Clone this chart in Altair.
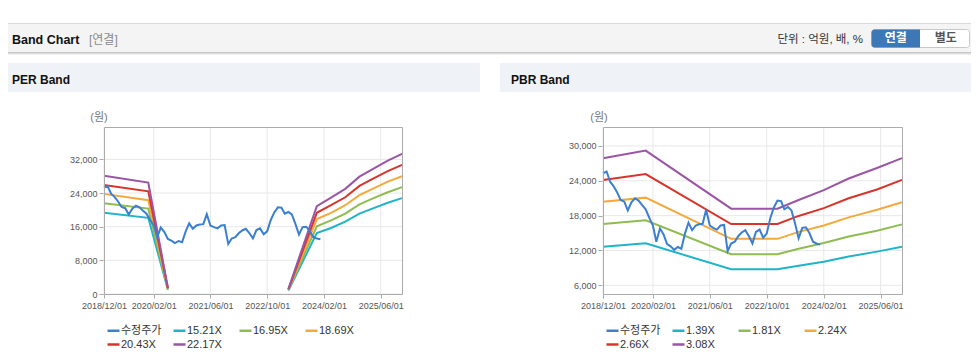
import altair as alt
import pandas as pd

# ---------------- data ----------------
price_label = "수정주가"
price_first_month = "2018-12-01"
price_values = [
    25300, 25600, 23800, 23100, 22000, 20700, 20400, 18900, 20300, 21000,
    20600, 19800, 19100, 17600, 16300, 13500, 15800, 14800, 13100, 12700,
    12100, 12600, 12300, 14900, 16800, 15500, 16300, 16500, 16600, 19000,
    16300, 15900, 15600, 16300, 16400, 11900, 13200, 13500, 14500, 15100,
    15500, 14500, 13200, 15200, 15600, 14200, 14900, 17600, 19400, 20600,
    20500, 19100, 19500, 18900, 16600, 14100, 15900, 16000, 15000, 13500,
    13200, 13000,
]

per_band_labels = ["15.21X", "16.95X", "18.69X", "20.43X", "22.17X"]
per_band_dates = [
    ["2018-12-01", "2019-12-16", "2020-06-01"],
    ["2023-04-01", "2023-12-01", "2024-04-01", "2024-08-01", "2024-12-01",
     "2025-04-01", "2025-08-01", "2025-12-01"],
]
per_15_21 = [19300, 18100, 1030, 820, 14500, 15700, 17200, 19100, 20400, 21700, 22800]
per_16_95 = [21600, 20300, 1150, 920, 16100, 17500, 19100, 21300, 22800, 24200, 25400]
per_18_69 = [23800, 22300, 1260, 1010, 17800, 19300, 21100, 23500, 25100, 26700, 28000]
per_20_43 = [25900, 24400, 1380, 1100, 19300, 21100, 23000, 25700, 27500, 29200, 30700]
per_22_17 = [28100, 26500, 1500, 1200, 20900, 22900, 25000, 27900, 29800, 31700, 33300]

pbr_band_labels = ["1.39X", "1.81X", "2.24X", "2.66X", "3.08X"]
pbr_band_dates = [
    ["2018-12-01", "2019-12-01", "2021-12-01", "2023-01-01", "2023-07-01",
     "2024-02-01", "2024-09-01", "2025-05-01", "2025-12-01"],
]
pbr_1_39 = [12650, 13250, 8750, 8750, 9350, 10050, 10950, 11800, 12650]
pbr_1_81 = [16550, 17200, 11350, 11350, 12300, 13300, 14400, 15400, 16500]
pbr_2_24 = [20400, 21100, 14000, 14000, 15200, 16300, 17700, 19000, 20300]
pbr_2_66 = [24150, 25150, 16550, 16550, 17950, 19300, 21000, 22500, 24150]
pbr_3_08 = [27900, 29200, 19200, 19200, 20700, 22400, 24400, 26200, 27900]

x_tick_dates = [(2018, 12, 1), (2020, 2, 1), (2021, 6, 1), (2022, 10, 1), (2024, 2, 1), (2025, 6, 1)]
x_domain_dates = [(2018, 12, 1), (2025, 12, 1)]
per_y_domain = [0, 39700]
per_y_ticks = [0, 8000, 16000, 24000, 32000]
pbr_y_domain = [4500, 33270]
pbr_y_ticks = [6000, 12000, 18000, 24000, 30000]

series_colors = ["#3a7fd0", "#1fb4c8", "#8fbc51", "#f5a83c", "#d8342c", "#9a55a4"]

# ---------------- tables ----------------
def band_frame(labels, seg_dates, series_values):
    rows = []
    for label, vals in zip(labels, series_values):
        i = 0
        for s, dates in enumerate(seg_dates):
            for d in dates:
                rows.append({"date": d, "value": vals[i], "series": label, "seg": f"{label}-{s}"})
                i += 1
    return pd.DataFrame(rows)


price_df = pd.DataFrame({
    "date": pd.date_range(price_first_month, periods=len(price_values), freq="MS").strftime("%Y-%m-%d"),
    "value": price_values,
    "series": price_label,
})
per_df = band_frame(per_band_labels, per_band_dates, [per_15_21, per_16_95, per_18_69, per_20_43, per_22_17])
pbr_df = band_frame(pbr_band_labels, pbr_band_dates, [pbr_1_39, pbr_1_81, pbr_2_24, pbr_2_66, pbr_3_08])
tick_df = pd.DataFrame({"date": [f"{y}-{m:02d}-{d:02d}" for y, m, d in x_tick_dates]})

# ---------------- layout constants (pixels) ----------------
W, H = 963, 345
TOP, BOTTOM = 119, 286
FONT = "Liberation Sans, Noto Sans CJK KR"
GRID = "#e8e8e8"
ONE = alt.InlineData(values=[{"k": 0}])


def dt(t):
    return alt.DateTime(year=t[0], month=t[1], date=t[2], utc=True)


def rect(x, x2, y, y2, **kw):
    return alt.Chart(ONE).mark_rect(**kw).encode(
        x=alt.value(x), x2=alt.value(x2), y=alt.value(y), y2=alt.value(y2))


def hline(x, x2, y, color):
    return alt.Chart(ONE).mark_rule(color=color, strokeWidth=1).encode(
        x=alt.value(x), x2=alt.value(x2), y=alt.value(y))


def label(x, y, text, **kw):
    return alt.Chart(ONE).mark_text(font=FONT, **kw).encode(
        x=alt.value(x), y=alt.value(y), text=alt.value(text))


def plot_layer(band_df, labels, y_domain, y_ticks, x0, x1):
    xs = alt.Scale(type="utc", domain=[dt(d) for d in x_domain_dates], range=[x0, x1])
    ys = alt.Scale(domain=y_domain, range=[BOTTOM, TOP], nice=False, zero=False)
    cs = alt.Scale(domain=[price_label] + labels, range=series_colors)
    leg = alt.Legend(orient="none", legendX=x0 + 2, legendY=315, columns=4, direction="horizontal",
                     gridAlign="all", symbolType="stroke", symbolSize=144, symbolStrokeWidth=2.5,
                     labelFont=FONT, labelFontSize=11, labelColor="#333333",
                     labelOffset=0, columnPadding=6, rowPadding=1, padding=0, title="")
    x_axis = alt.Axis(values=[dt(d) for d in x_tick_dates],
                      labelExpr="utcFormat(datum.value, '%Y/%m/%d')",
                      orient="bottom", offset=BOTTOM - H, grid=False, domain=False,
                      tickSize=4, tickColor="#aaaaaa", labelFont=FONT, labelFontSize=9,
                      labelColor="#555555", labelPadding=3, labelFlush=False,
                      labelOverlap=False, title="")
    y_axis = alt.Axis(values=y_ticks, labelExpr="format(datum.value, ',')",
                      orient="left", offset=-x0, grid=False,
                      domain=False, tickSize=5, tickColor="#aaaaaa", labelFont=FONT,
                      labelFontSize=9, labelColor="#555555", labelPadding=2, title="")
    xenc = alt.X("date:T", scale=xs, axis=x_axis)
    yenc = alt.Y("value:Q", scale=ys, axis=y_axis)
    vgrid = alt.Chart(tick_df).mark_rule(color=GRID, strokeWidth=1).encode(
        x=xenc, y=alt.value(TOP), y2=alt.value(BOTTOM))
    hgrid = alt.Chart(pd.DataFrame({"value": y_ticks})).mark_rule(color=GRID, strokeWidth=1).encode(
        y=yenc, x=alt.value(x0), x2=alt.value(x1))
    bands = alt.Chart(band_df).mark_line(strokeWidth=2).encode(
        x=xenc, y=yenc, color=alt.Color("series:N", scale=cs, legend=leg), detail="seg:N")
    price = alt.Chart(price_df).mark_line(strokeWidth=2).encode(
        x=xenc, y=yenc, color=alt.Color("series:N", scale=cs, legend=leg))
    frame = rect(x0 + 0.5, x1 + 0.5, TOP + 0.5, BOTTOM + 0.5, fillOpacity=0,
                 stroke="#ababab", strokeWidth=1)
    return alt.layer(vgrid, hgrid, bands, price, frame)


per_layer = plot_layer(per_df, per_band_labels, per_y_domain, per_y_ticks, 96, 394)
pbr_layer = plot_layer(pbr_df, pbr_band_labels, pbr_y_domain, pbr_y_ticks, 595, 894)

background = [
    rect(0, W, 15.5, 45, color="#f4f4f4"),
    hline(0, W, 15.5, "#d9d9d9"),
    hline(0, W, 44.5, "#c6c6c6"),
    hline(0, W, 45.5, "#dedede"),
    hline(0, W, 46.5, "#efefef"),
    rect(0, 472, 55, 84, color="#eff2f6"),
    rect(492, W, 55, 84, color="#eff2f6"),
    rect(863.5, 961.5, 21.5, 39.5, fill="#ffffff", stroke="#c8c8c8", strokeWidth=1, cornerRadius=3),
    rect(863.5, 912, 21.5, 39.5, color="#3c78b6", cornerRadiusTopLeft=3, cornerRadiusBottomLeft=3),
]

texts = [
    label(4, 35.5, "Band Chart", fontSize=12.5, fontWeight="bold", color="#111111",
          align="left", baseline="alphabetic"),
    label(81, 35.5, "[연결]", fontSize=12, color="#8a8a8a", align="left", baseline="alphabetic"),
    label(855, 34.5, "단위 : 억원, 배, %", fontSize=11.5, color="#333333", align="right",
          baseline="alphabetic"),
    label(887.8, 30, "연결", fontSize=12, fontWeight="bold", color="#ffffff", align="center",
          baseline="middle"),
    label(937.8, 30, "별도", fontSize=12, fontWeight="bold", color="#555555", align="center",
          baseline="middle"),
    label(4, 75.5, "PER Band", fontSize=12, fontWeight="bold", color="#111111", align="left",
          baseline="alphabetic"),
    label(503, 75.5, "PBR Band", fontSize=12, fontWeight="bold", color="#111111", align="left",
          baseline="alphabetic"),
    label(91, 109.5, "(원)", fontSize=11, color="#777777", align="center", baseline="middle"),
    label(591, 109.5, "(원)", fontSize=11, color="#777777", align="center", baseline="middle"),
]

chart = alt.layer(*background, per_layer, pbr_layer, *texts).resolve_scale(
    x="independent", y="independent", color="independent"
).properties(
    width=W, height=H, padding=0, autosize=alt.AutoSizeParams(type="none"), background="white"
).configure_view(stroke="transparent")

chart.save("out.html", embed_options={"renderer": "svg", "actions": False})
